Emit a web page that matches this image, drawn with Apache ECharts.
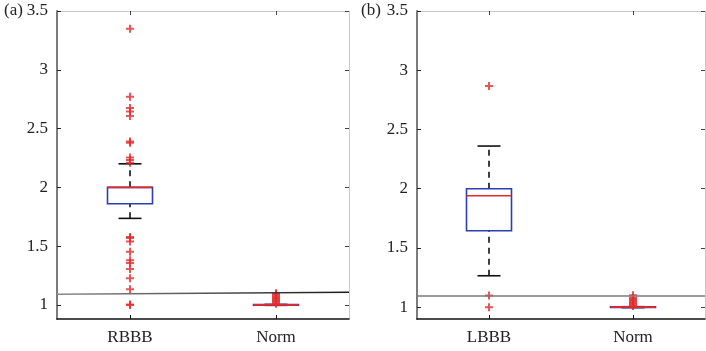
<!DOCTYPE html>
<html>
<head>
<meta charset="utf-8">
<script src="https://cdn.jsdelivr.net/npm/echarts@6/dist/echarts.min.js"></script>
<style>
  html, body { margin: 0; padding: 0; background: #fff; }
  #chart { width: 706px; height: 351px; }
</style>
</head>
<body>
<div id="chart"></div>
<script>
// Panel (a): RBBB vs Norm
const catsA = ['RBBB', 'Norm'];
// [x, lower whisker, Q1, median, Q3, upper whisker]
const boxesA = [
  [1, 1.736, 1.861, 2.0, 2.0, 2.20],
  [2, 0.996, 0.998, 1.0, 1.002, 1.004]
];
const outliersA = [
  [1, 3.35], [1, 2.77], [1, 2.674], [1, 2.645], [1, 2.606], [1, 2.39], [1, 2.38],
  [1, 2.254], [1, 2.232], [1, 2.21],
  [1, 1.578], [1, 1.569], [1, 1.54], [1, 1.453], [1, 1.379], [1, 1.357],
  [1, 1.306], [1, 1.226], [1, 1.133], [1, 1.0], [1, 1.004],
  [2, 1.01], [2, 1.02], [2, 1.03], [2, 1.04], [2, 1.05], [2, 1.06],
  [2, 1.07], [2, 1.08], [2, 1.09], [2, 1.1]
];
const thresholdA = [1.09, 1.107];

// Panel (b): LBBB vs Norm
const catsB = ['LBBB', 'Norm'];
const boxesB = [
  [1, 1.265, 1.645, 1.94, 2.0, 2.36],
  [2, 0.996, 0.998, 1.0, 1.002, 1.004]
];
const outliersB = [
  [1, 2.867], [1, 1.099], [1, 1.0],
  [2, 1.01], [2, 1.02], [2, 1.03], [2, 1.04], [2, 1.05], [2, 1.06],
  [2, 1.07], [2, 1.08], [2, 1.1]
];
const thresholdB = [1.1, 1.1];

const yTicks = [1, 1.5, 2, 2.5, 3, 3.5];
const xTicks = [1, 2];

const RED = '#e42a2a';
const BLUE = '#2c3fae';
const FONT = '"Liberation Serif", "Times New Roman", serif';
const PLUS = 'path://M3,0H5V3H8V5H5V8H3V5H0V3H3Z';

function renderBox(params, api) {
  const x = api.value(0);
  const lo = api.coord([x, api.value(1)]);
  const q1 = api.coord([x, api.value(2)]);
  const md = api.coord([x, api.value(3)]);
  const q3 = api.coord([x, api.value(4)]);
  const hi = api.coord([x, api.value(5)]);
  const cx = lo[0];
  const hw = 22.5, cw = 11.5;
  const dash = { stroke: '#111', lineWidth: 1.6, lineDash: [6, 5] };
  const solid = { stroke: '#111', lineWidth: 1.6 };
  return {
    type: 'group',
    children: [
      { type: 'line', shape: { x1: cx, y1: q3[1], x2: cx, y2: hi[1] }, style: dash },
      { type: 'line', shape: { x1: cx, y1: lo[1], x2: cx, y2: q1[1] }, style: dash },
      { type: 'line', shape: { x1: cx - cw, y1: hi[1], x2: cx + cw, y2: hi[1] }, style: solid },
      { type: 'line', shape: { x1: cx - cw, y1: lo[1], x2: cx + cw, y2: lo[1] }, style: solid },
      { type: 'rect', shape: { x: cx - hw, y: q3[1], width: 2 * hw, height: q1[1] - q3[1] },
        style: { fill: 'none', stroke: BLUE, lineWidth: 1.6 } },
      { type: 'line', shape: { x1: cx - hw, y1: md[1], x2: cx + hw, y2: md[1] },
        style: { stroke: RED, lineWidth: 1.6 } }
    ]
  };
}

function panelAxes(idx, cats, yMin) {
  const labelFmt = v => (v === 1 ? cats[0] : v === 2 ? cats[1] : '');
  const xBottom = {
    type: 'value', gridIndex: idx, min: 0.5, max: 2.5, position: 'bottom',
    axisLine: { lineStyle: { color: '#111', width: 1.5 } },
    axisTick: { inside: true, length: 4, customValues: xTicks, lineStyle: { color: '#111' } },
    axisLabel: { customValues: xTicks, formatter: labelFmt, margin: 10,
      fontFamily: FONT, fontSize: 17, color: '#222' },
    splitLine: { show: false }
  };
  const xTop = {
    type: 'value', gridIndex: idx, min: 0.5, max: 2.5, position: 'top',
    axisLine: { show: true, lineStyle: { color: '#c8c8c8', width: 1 } },
    axisTick: { inside: true, length: 4, customValues: xTicks, lineStyle: { color: '#444' } },
    axisLabel: { show: false }, splitLine: { show: false }
  };
  const yLeft = {
    type: 'value', gridIndex: idx, min: yMin, max: 3.5, position: 'left',
    axisLine: { show: true, lineStyle: { color: '#7c7c7c', width: 2 } },
    axisTick: { show: true, inside: true, length: 4, customValues: yTicks, lineStyle: { color: '#222' } },
    axisLabel: { customValues: yTicks, formatter: v => String(v), margin: 9,
      fontFamily: FONT, fontSize: 17, color: '#222' },
    splitLine: { show: false }
  };
  const yRight = {
    type: 'value', gridIndex: idx, min: yMin, max: 3.5, position: 'right',
    axisLine: { show: true, lineStyle: { color: '#c8c8c8', width: 1 } },
    axisTick: { show: true, inside: true, length: 4, customValues: yTicks, lineStyle: { color: '#444' } },
    axisLabel: { show: false }, splitLine: { show: false }
  };
  return { x: [xBottom, xTop], y: [yLeft, yRight] };
}

const axA = panelAxes(0, catsA, 0.88);
const axB = panelAxes(1, catsB, 0.9);

function thresholdLine(vals, colorStops) {
  return {
    silent: true, symbol: 'none', animation: false,
    label: { show: false },
    lineStyle: {
      width: 1.5, type: 'solid',
      color: { type: 'linear', x: 0, y: 0, x2: 1, y2: 0, colorStops: colorStops }
    },
    data: [[{ coord: [0.5, vals[0]] }, { coord: [2.5, vals[1]] }]]
  };
}

const option = {
  animation: false,
  backgroundColor: '#fff',
  grid: [
    { left: 57, top: 11, width: 292, height: 308 },
    { left: 417, top: 11, width: 288, height: 308 }
  ],
  xAxis: [axA.x[0], axA.x[1], axB.x[0], axB.x[1]],
  yAxis: [axA.y[0], axA.y[1], axB.y[0], axB.y[1]],
  graphic: [
    { type: 'text', left: 4, top: 2, style: { text: '(a)', font: '17px ' + FONT, fill: '#222' } },
    { type: 'text', left: 361, top: 2, style: { text: '(b)', font: '17px ' + FONT, fill: '#222' } }
  ],
  series: [
    {
      type: 'custom', xAxisIndex: 0, yAxisIndex: 0, renderItem: renderBox,
      data: boxesA, z: 3
    },
    {
      type: 'scatter', xAxisIndex: 0, yAxisIndex: 0, data: outliersA,
      symbol: PLUS, symbolSize: 8, itemStyle: { color: RED }, z: 4,
      markLine: thresholdLine(thresholdA, [
        { offset: 0, color: '#8c8c8c' }, { offset: 0.5, color: '#555' }, { offset: 1, color: '#1a1a1a' }
      ])
    },
    {
      type: 'custom', xAxisIndex: 2, yAxisIndex: 2, renderItem: renderBox,
      data: boxesB, z: 3
    },
    {
      type: 'scatter', xAxisIndex: 2, yAxisIndex: 2, data: outliersB,
      symbol: PLUS, symbolSize: 8, itemStyle: { color: RED }, z: 4,
      markLine: thresholdLine(thresholdB, [
        { offset: 0, color: '#7a7a7a' }, { offset: 1, color: '#7a7a7a' }
      ])
    }
  ]
};

const chart = echarts.init(document.getElementById('chart'), null, { renderer: 'canvas' });
chart.setOption(option);
</script>
</body>
</html>
